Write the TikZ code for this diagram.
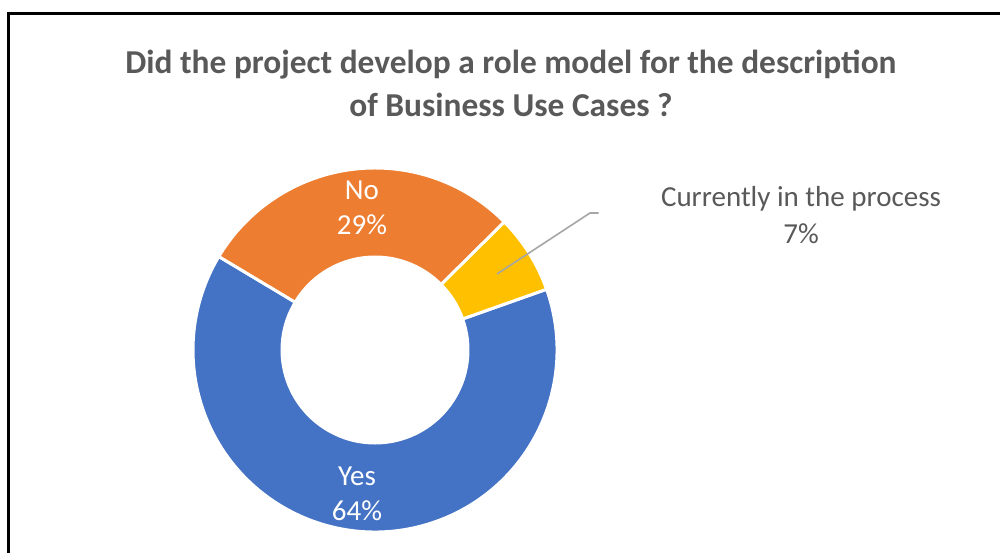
\documentclass[tikz,border=0pt]{standalone}
\usepackage{fontspec}
\setmainfont{Carlito}
\usetikzlibrary{positioning}

\definecolor{yesblue}{HTML}{4472C4}
\definecolor{noorange}{HTML}{ED7D31}
\definecolor{curyellow}{HTML}{FFC000}
\definecolor{txtgrey}{HTML}{595959}
\definecolor{leadgrey}{HTML}{A6A6A6}

\tikzset{
  slicelbl/.style={text=white, align=center, font=\fontsize{29}{35}\selectfont},
  outlbl/.style={text=txtgrey, align=center, font=\fontsize{29}{37}\selectfont},
  leader/.style={draw=leadgrey, line width=1.6pt}
}

\begin{document}
\begin{tikzpicture}[x=1pt, y=1pt]
  \useasboundingbox (0,0) rectangle (1000,553);

  % frame
  \draw[line width=3pt] (8,0) -- (8,539) -- (1000,539);

  % title
  \node[text=txtgrey, align=center, font=\bfseries\fontsize{33.4}{43}\selectfont] (title) at (511,469.5)
    {Did the project develop a role model for the description\\of Business Use Cases ?};

  % donut
  \coordinate (ctr) at (375,203);
  \foreach \aa/\ab/\col in {19.5/-210.9/yesblue, 149.1/44.7/noorange, 44.7/19.5/curyellow}
    \filldraw[fill=\col, draw=white, line width=3pt, shift={(ctr)}]
      (\aa:182) arc (\aa:\ab:182) -- (\ab:93) arc (\ab:\aa:93) -- cycle;

  % labels
  \node[slicelbl] (noLbl) at (362,345) {No\\29\%};
  \node[slicelbl] (yesLbl) at (357,59) {Yes\\64\%};
  \node[outlbl] (curLbl) at (801,337.5) {Currently in the process\\7\%};

  % leader line
  \coordinate (curTip) at (497,279);
  \coordinate (curKnee) at (590,340);
  \coordinate[left=59pt of curLbl.west] (curEnd);
  \draw[leader] (curTip) -- (curKnee) -- (curKnee -| curEnd);
\end{tikzpicture}
\end{document}
